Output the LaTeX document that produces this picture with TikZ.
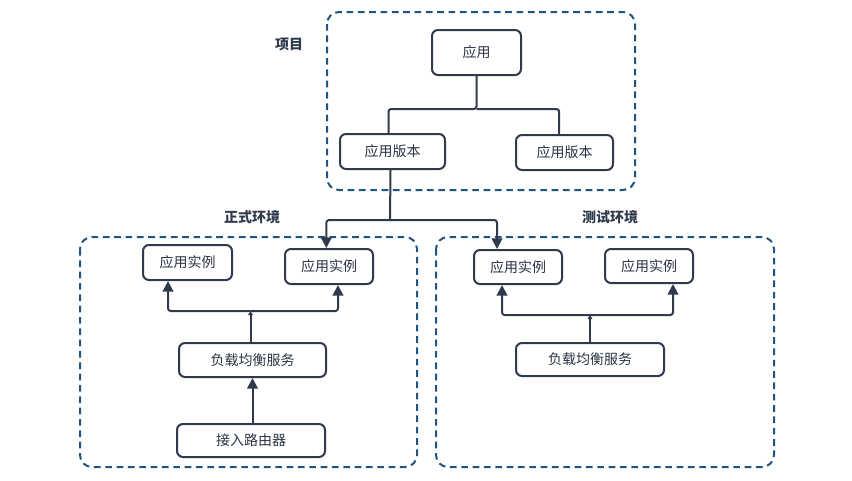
\documentclass[tikz,border=0pt]{standalone}
\usepackage{fontspec}
\setmainfont{Noto Sans CJK SC}
\usetikzlibrary{arrows.meta}
\definecolor{lineC}{HTML}{2F3B4C}
\definecolor{dashC}{HTML}{1F5580}
\tikzset{
  box/.style={draw=lineC, line width=1.5pt, rounded corners=4.5pt, fill=white,
    font=\fontsize{10.5}{12}\selectfont, text=lineC!90!black, inner sep=0pt},
  group/.style={draw=dashC, line width=1.5pt, rounded corners=9pt, dash pattern=on 5pt off 3.5pt},
  conn/.style={draw=lineC, line width=1.5pt, rounded corners=2pt},
  arr/.style={conn, -{Triangle[length=8pt,width=8pt]}},
  smallarr/.style={conn, -{Triangle[length=3pt,width=3.5pt]}},
  glabel/.style={font=\bfseries\fontsize{10.5}{12}\selectfont, text=lineC}
}
\begin{document}
\begin{tikzpicture}[x=0.75pt,y=-0.75pt]
\useasboundingbox (0,0) rectangle (852,480);
% groups
\draw[group] (327,12) rectangle (635,190);
\draw[group] (80,237) rectangle (417,467);
\draw[group] (436,237) rectangle (774,467);
\node[glabel] (lproj) at (289,44) {项目};
\node[glabel] (lprod) at (252,217) {正式环境};
\node[glabel] (ltest) at (610,217) {测试环境};
% project nodes
\node[box, minimum width=66.75pt, minimum height=33.75pt] (app) at (476.5,52.5) {应用};
\node[box, minimum width=78.75pt, minimum height=26.25pt] (verL) at (392.5,151.5) {应用版本};
\node[box, minimum width=72.75pt, minimum height=26.25pt] (verR) at (564.5,152.5) {应用版本};
% production
\node[box, minimum width=66.75pt, minimum height=26.25pt] (inst1) at (187.5,262.5) {应用实例};
\node[box, minimum width=66pt, minimum height=26.25pt] (inst2) at (329,266.5) {应用实例};
\node[box, minimum width=110.25pt, minimum height=25.5pt] (lb1) at (252.5,360) {负载均衡服务};
\node[box, minimum width=111pt, minimum height=24.75pt] (router) at (251,440.5) {接入路由器};
% test
\node[box, minimum width=66pt, minimum height=25.5pt] (inst3) at (518,267) {应用实例};
\node[box, minimum width=66pt, minimum height=25.5pt] (inst4) at (649,266) {应用实例};
\node[box, minimum width=111pt, minimum height=24.75pt] (lb2) at (590,359.5) {负载均衡服务};
% project connectors
\coordinate (j1) at (476.5,109);
\draw[conn] (app.south) -- (j1) -| ([xshift=-3pt]verL.north);
\draw[conn] (j1) -| ([xshift=-4pt]verR.north);
\coordinate (j2) at (390,220);
\draw[conn] ([xshift=-1.5pt]verL.south) -- (j2);
\draw[arr] (j2) -| ([xshift=-2pt]inst2.north);
\draw[arr] (j2) -| ([xshift=-15.75pt]inst3.north);
% production connectors
\coordinate (jL) at (250.5,311);
\draw[smallarr] (lb1.north -| jL) -- (jL);
\draw[arr] (jL) -| ([xshift=-14.6pt]inst1.south);
\draw[arr] (jL) -| ([xshift=6.75pt]inst2.south);
\draw[arr] (router.north -| lb1.south) -- (lb1.south);
% test connectors
\coordinate (jT) at (590,315);
\draw[smallarr] (lb2.north) -- (jT);
\draw[arr] (jT) -| ([xshift=-12pt]inst3.south);
\draw[arr] (jT) -| ([xshift=18pt]inst4.south);
\end{tikzpicture}
\end{document}
